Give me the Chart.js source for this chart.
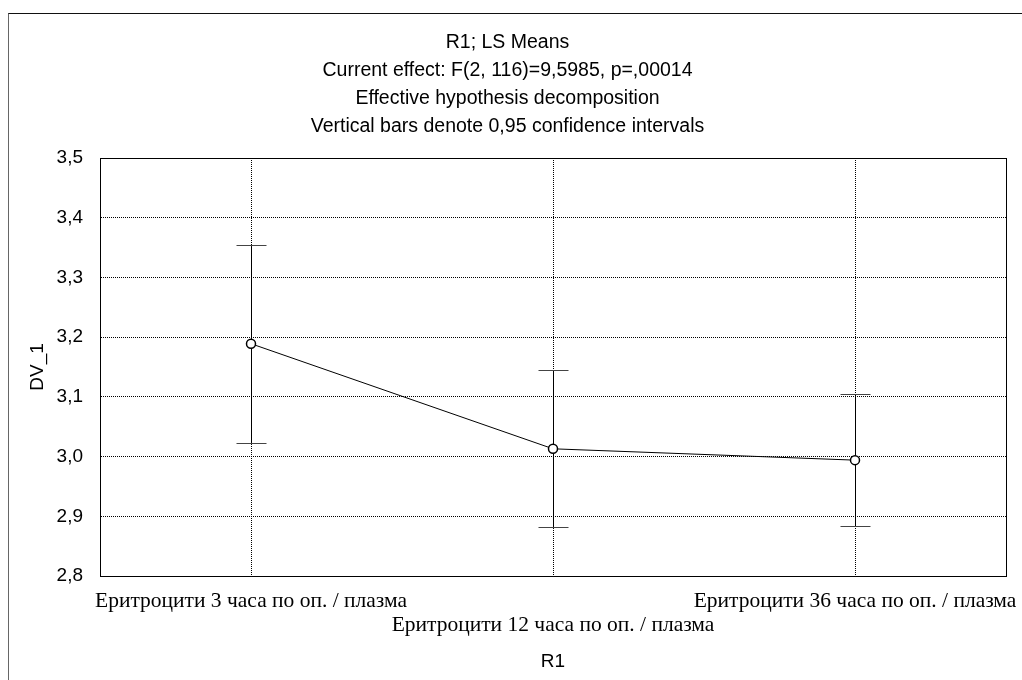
<!DOCTYPE html>
<html>
<head>
<meta charset="utf-8">
<title>R1; LS Means</title>
<script src="https://cdn.jsdelivr.net/npm/chart.js@4.4.1/dist/chart.umd.min.js"></script>
<style>
  html, body { margin: 0; padding: 0; background: #fff; }
  #wrap { position: relative; width: 1022px; height: 680px; }
  #frame { position: absolute; left: 8px; top: 13px; right: 0; bottom: 0;
           border-top: 1px solid #111; border-left: 1px solid #666; }
  canvas { position: absolute; left: 0; top: 0; }
</style>
</head>
<body>
<div id="wrap">
  <div id="frame"></div>
  <canvas id="chart" width="1022" height="680"></canvas>
</div>
<script>
// LS means of DV_1 per R1 level with 0,95 confidence limits
const categories = [
  'Еритроцити 3 часа по оп. / плазма',
  'Еритроцити 12 часа по оп. / плазма',
  'Еритроцити 36 часа по оп. / плазма'
];
const means = [3.189, 3.013, 2.994];
const ciLow = [3.023, 2.882, 2.883];
const ciHigh = [3.355, 3.145, 3.104];
const yTicks = [2.8, 2.9, 3.0, 3.1, 3.2, 3.3, 3.4, 3.5];

const titleLines = [
  'R1; LS Means',
  'Current effect: F(2, 116)=9,5985, p=,00014',
  'Effective hypothesis decomposition',
  'Vertical bars denote 0,95 confidence intervals'
];

const sans = 'Arial, "Liberation Sans", sans-serif';
const serif = '"Times New Roman", "Liberation Serif", serif';

// every other category label drops to a second row
const xLabels = categories.map((c, i) => i % 2 ? ['', c] : c);

// whiskers with caps, drawn under the point markers
const errorBars = {
  id: 'errorBars',
  beforeDatasetsDraw(chart) {
    const { ctx, scales: { x, y } } = chart;
    ctx.save();
    ctx.lineWidth = 1;
    means.forEach((m, i) => {
      const px = Math.round(x.getPixelForValue(i)) + 0.5;
      const top = Math.round(y.getPixelForValue(ciHigh[i])) + 0.5;
      const bot = Math.round(y.getPixelForValue(ciLow[i])) + 0.5;
      ctx.strokeStyle = '#000';
      ctx.beginPath();
      ctx.moveTo(px, top); ctx.lineTo(px, bot);
      ctx.stroke();
      ctx.strokeStyle = '#444';
      ctx.beginPath();
      ctx.moveTo(px - 15, top); ctx.lineTo(px + 15, top);
      ctx.moveTo(px - 15, bot); ctx.lineTo(px + 15, bot);
      ctx.stroke();
    });
    ctx.restore();
  }
};

// closed box around the plot area
const plotBox = {
  id: 'plotBox',
  afterDraw(chart) {
    const { ctx, chartArea: a } = chart;
    ctx.save();
    ctx.strokeStyle = '#000';
    ctx.lineWidth = 1;
    ctx.strokeRect(Math.round(a.left) + 0.5, Math.round(a.top) + 0.5,
      Math.round(a.right - a.left), Math.round(a.bottom - a.top));
    ctx.restore();
  }
};

new Chart(document.getElementById('chart'), {
  type: 'line',
  data: {
    labels: xLabels,
    datasets: [{
      data: means,
      borderColor: '#000',
      borderWidth: 1,
      tension: 0,
      pointRadius: 4.5,
      pointHoverRadius: 4.5,
      pointBackgroundColor: '#fff',
      pointBorderColor: '#000',
      pointBorderWidth: 1.5
    }]
  },
  options: {
    responsive: false,
    animation: false,
    events: [],
    layout: { padding: { left: 9, right: 16, top: 0, bottom: 0 } },
    plugins: {
      legend: { display: false },
      tooltip: { enabled: false },
      title: {
        display: true,
        text: titleLines,
        color: '#000',
        font: { family: sans, size: 19.5, weight: 'normal', lineHeight: 28 / 19.5 },
        padding: { top: 29, bottom: 17 }
      }
    },
    scales: {
      x: {
        offset: true,
        grid: { color: '#000', drawTicks: false },
        // dotted grid lines
        border: { display: true, color: '#000', dash: [1, 1] },
        ticks: {
          color: '#000',
          autoSkip: false,
          maxRotation: 0,
          minRotation: 0,
          padding: 13,
          font: { family: serif, size: 21.5, lineHeight: 24 / 21.5 }
        },
        title: {
          display: true,
          text: 'R1',
          color: '#000',
          font: { family: sans, size: 19, lineHeight: 1.2 },
          padding: { top: 7, bottom: 7 }
        },
        afterFit(s) {
          s.height = 104;
          // long end labels may hang past the plot edges
          s.paddingLeft = 0;
          s.paddingRight = 0;
        }
      },
      y: {
        min: 2.8,
        max: 3.5,
        afterBuildTicks(s) { s.ticks = yTicks.map(v => ({ value: v })); },
        grid: { color: '#000', drawTicks: false },
        border: { display: true, color: '#000', dash: [1, 1] },
        ticks: {
          color: '#000',
          padding: 17,
          font: { family: sans, size: 19 },
          callback: v => v.toFixed(1).replace('.', ',')
        },
        title: {
          display: true,
          text: 'DV_1',
          color: '#000',
          font: { family: sans, size: 19, lineHeight: 1.2 },
          padding: { top: 17, bottom: 17 }
        },
        afterFit(s) { s.width = 91; }
      }
    }
  },
  plugins: [errorBars, plotBox]
});
</script>
</body>
</html>
